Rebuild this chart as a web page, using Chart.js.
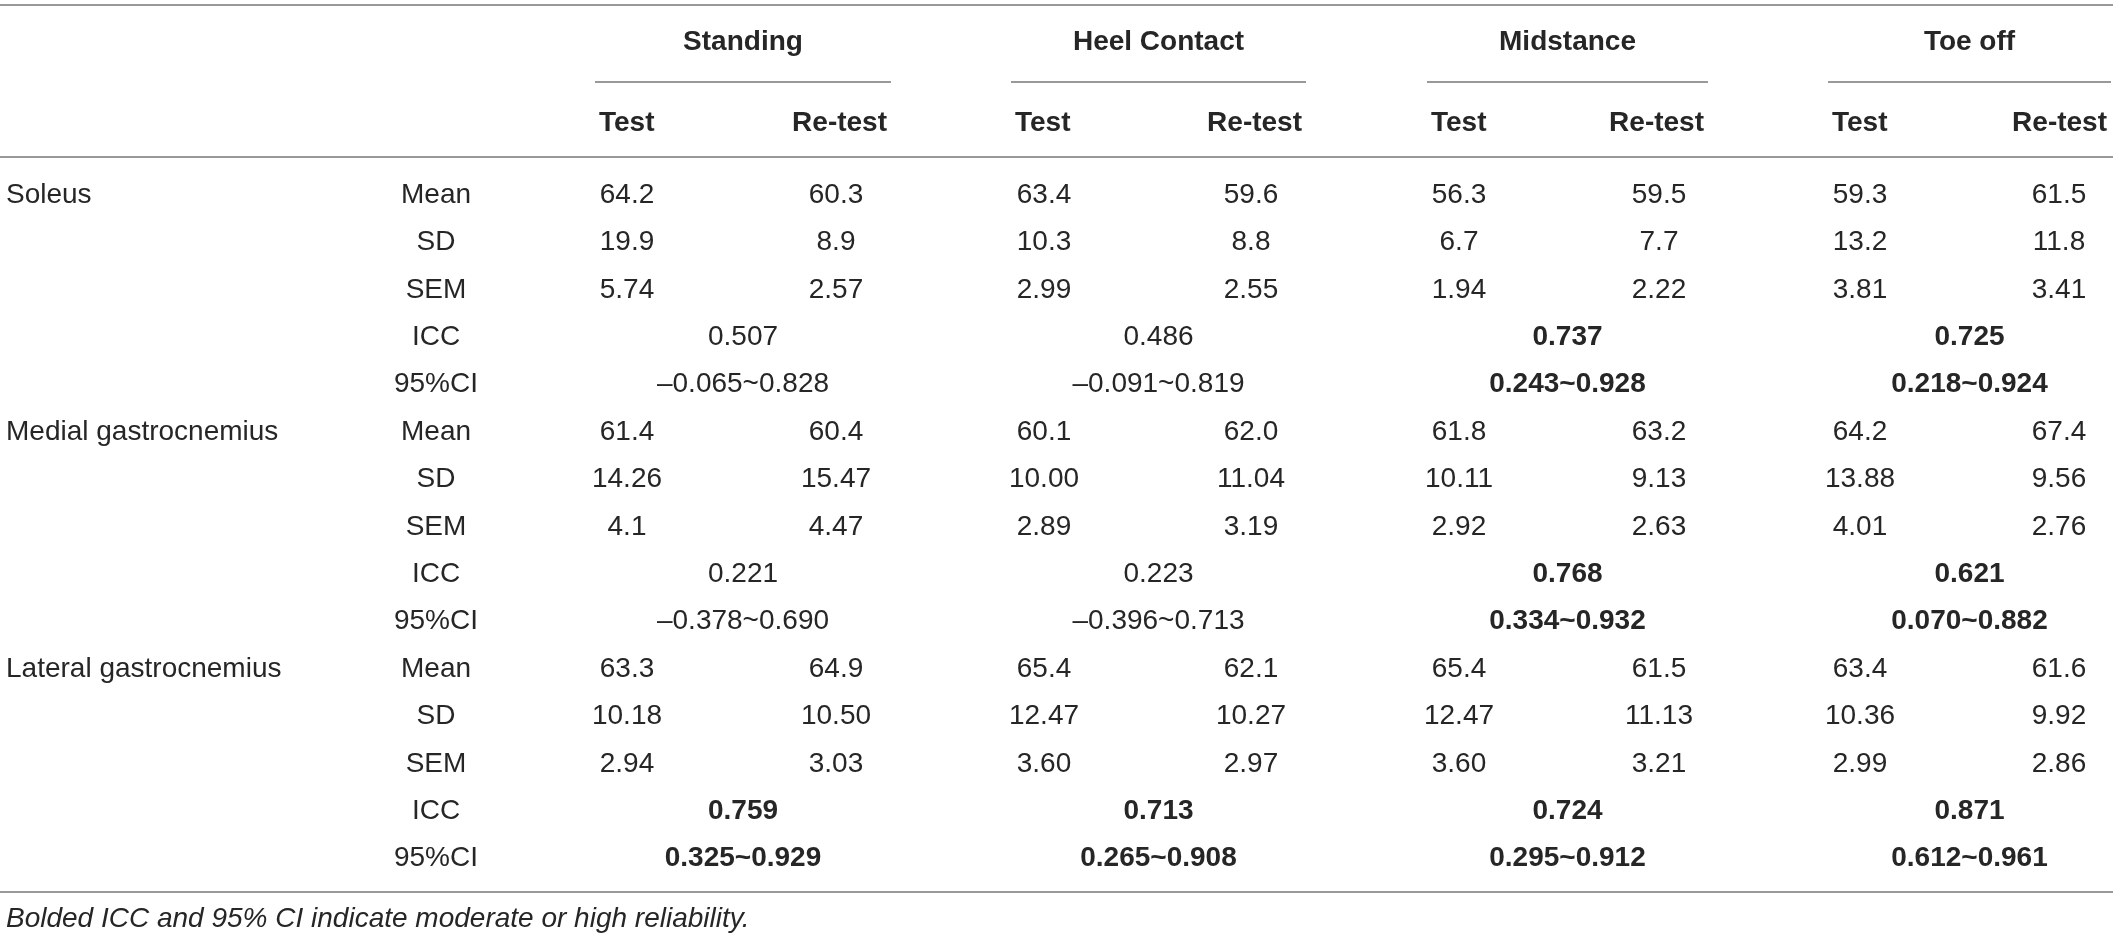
<!DOCTYPE html>
<html>
<head>
<meta charset="utf-8">
<script src="https://cdn.jsdelivr.net/npm/chart.js@4.4.1/dist/chart.umd.min.js"></script>
<style>
  html, body { margin: 0; padding: 0; background: #ffffff; }
  #wrap { width: 2117px; height: 941px; }
</style>
</head>
<body>
<div id="wrap"><canvas id="tbl" width="2117" height="941"></canvas></div>
<script>
// ---------- DATA ----------
const MUSCLES = ['Soleus', 'Medial gastrocnemius', 'Lateral gastrocnemius'];
const STATS = ['Mean', 'SD', 'SEM', 'ICC', '95%CI'];
const PHASES = ['Standing', 'Heel Contact', 'Midstance', 'Toe off'];
const SESSIONS = ['Test', 'Re-test'];

// [muscle][phase]
const MEAN_TEST   = [['64.2', '63.4', '56.3', '59.3'], ['61.4', '60.1', '61.8', '64.2'], ['63.3', '65.4', '65.4', '63.4']];
const MEAN_RETEST = [['60.3', '59.6', '59.5', '61.5'], ['60.4', '62.0', '63.2', '67.4'], ['64.9', '62.1', '61.5', '61.6']];
const SD_TEST     = [['19.9', '10.3', '6.7', '13.2'], ['14.26', '10.00', '10.11', '13.88'], ['10.18', '12.47', '12.47', '10.36']];
const SD_RETEST   = [['8.9', '8.8', '7.7', '11.8'], ['15.47', '11.04', '9.13', '9.56'], ['10.50', '10.27', '11.13', '9.92']];
const SEM_TEST    = [['5.74', '2.99', '1.94', '3.81'], ['4.1', '2.89', '2.92', '4.01'], ['2.94', '3.60', '3.60', '2.99']];
const SEM_RETEST  = [['2.57', '2.55', '2.22', '3.41'], ['4.47', '3.19', '2.63', '2.76'], ['3.03', '2.97', '3.21', '2.86']];
const ICC_VALUES  = [['0.507', '0.486', '0.737', '0.725'], ['0.221', '0.223', '0.768', '0.621'], ['0.759', '0.713', '0.724', '0.871']];
const CI_VALUES   = [['–0.065~0.828', '–0.091~0.819', '0.243~0.928', '0.218~0.924'],
                     ['–0.378~0.690', '–0.396~0.713', '0.334~0.932', '0.070~0.882'],
                     ['0.325~0.929', '0.265~0.908', '0.295~0.912', '0.612~0.961']];
const BOLD_RELIABLE = [[false, false, true, true], [false, false, true, true], [true, true, true, true]];
const FOOTNOTE = 'Bolded ICC and 95% CI indicate moderate or high reliability.';

// ---------- LAYOUT / STYLE ----------
const W = 2117, H = 941;
const LAYOUT = {
  muscleX: 6, statX: 436,
  groupLeft:  [595, 1011, 1427, 1828],
  groupRight: [891, 1306, 1708, 2111],
  testX:   [627, 1044, 1459, 1860],
  retestX: [836, 1251, 1659, 2059],
  firstRowY: 195, lastRowY: 858.6,
  topRuleY: 5, phaseY: 42, underlineY: 82, sessionY: 123, headRuleY: 157,
  bottomRuleY: 892, footY: 919,
  ruleLeft: 0, ruleRight: 2113
};
const STYLE = {
  font: '"Liberation Sans", Arial, Helvetica, sans-serif',
  size: 28,
  text: '#262626',
  rule: '#999999',
  ruleWidth: 2
};

// ---------- BUILD DATASETS ----------
const ROW_KEYS = [];
MUSCLES.forEach(m => STATS.forEach(s => ROW_KEYS.push(m + '|' + s)));
const rowKey = (mi, si) => MUSCLES[mi] + '|' + STATS[si];

const datasets = [];
function addColumn(points, texts, align, bold) {
  datasets.push({ data: points, texts, align, bold: bold || texts.map(() => false),
                  pointRadius: 0, pointHoverRadius: 0, showLine: false });
}
// muscle names
addColumn(MUSCLES.map((m, mi) => ({ x: LAYOUT.muscleX, y: rowKey(mi, 0) })), MUSCLES.slice(), 'left');
// statistic labels
{
  const pts = [], txt = [];
  MUSCLES.forEach((m, mi) => STATS.forEach((s, si) => { pts.push({ x: LAYOUT.statX, y: rowKey(mi, si) }); txt.push(s); }));
  addColumn(pts, txt, 'center');
}
// values per phase
PHASES.forEach((ph, pi) => {
  const tp = [], tt = [], rp = [], rt = [], cp = [], ct = [], cb = [];
  const cx = (LAYOUT.groupLeft[pi] + LAYOUT.groupRight[pi]) / 2;
  MUSCLES.forEach((m, mi) => {
    [MEAN_TEST, SD_TEST, SEM_TEST].forEach((arr, si) => { tp.push({ x: LAYOUT.testX[pi], y: rowKey(mi, si) }); tt.push(arr[mi][pi]); });
    [MEAN_RETEST, SD_RETEST, SEM_RETEST].forEach((arr, si) => { rp.push({ x: LAYOUT.retestX[pi], y: rowKey(mi, si) }); rt.push(arr[mi][pi]); });
    cp.push({ x: cx, y: rowKey(mi, 3) }); ct.push(ICC_VALUES[mi][pi]); cb.push(BOLD_RELIABLE[mi][pi]);
    cp.push({ x: cx, y: rowKey(mi, 4) }); ct.push(CI_VALUES[mi][pi]); cb.push(BOLD_RELIABLE[mi][pi]);
  });
  addColumn(tp, tt, 'center');
  addColumn(rp, rt, 'center');
  addColumn(cp, ct, 'center', cb);
});

// ---------- PLUGIN: draw table text & rules ----------
const tablePlugin = {
  id: 'tableText',
  afterDatasetsDraw(chart) {
    const ctx = chart.ctx;
    ctx.save();
    ctx.fillStyle = STYLE.text;
    ctx.textBaseline = 'middle';
    chart.data.datasets.forEach((ds, di) => {
      const meta = chart.getDatasetMeta(di);
      meta.data.forEach((el, j) => {
        ctx.font = (ds.bold[j] ? 'bold ' : '') + STYLE.size + 'px ' + STYLE.font;
        ctx.textAlign = ds.align;
        ctx.fillText(ds.texts[j], el.x, el.y);
      });
    });
    // headers
    ctx.font = 'bold ' + STYLE.size + 'px ' + STYLE.font;
    PHASES.forEach((ph, pi) => {
      const l = LAYOUT.groupLeft[pi], r = LAYOUT.groupRight[pi];
      ctx.textAlign = 'center';
      ctx.fillText(ph, (l + r) / 2, LAYOUT.phaseY);
      ctx.textAlign = 'left';
      ctx.fillText(SESSIONS[0], l + 4, LAYOUT.sessionY);
      ctx.textAlign = 'right';
      ctx.fillText(SESSIONS[1], r - 4, LAYOUT.sessionY);
    });
    // footnote
    ctx.font = 'italic ' + STYLE.size + 'px ' + STYLE.font;
    ctx.textAlign = 'left';
    ctx.fillText(FOOTNOTE, 6, LAYOUT.footY);
    // rules
    ctx.strokeStyle = STYLE.rule;
    ctx.lineWidth = STYLE.ruleWidth;
    const hline = (x1, x2, y) => { ctx.beginPath(); ctx.moveTo(x1, y); ctx.lineTo(x2, y); ctx.stroke(); };
    hline(LAYOUT.ruleLeft, LAYOUT.ruleRight, LAYOUT.topRuleY);
    hline(LAYOUT.ruleLeft, LAYOUT.ruleRight, LAYOUT.headRuleY);
    hline(LAYOUT.ruleLeft, LAYOUT.ruleRight, LAYOUT.bottomRuleY);
    PHASES.forEach((ph, pi) => hline(LAYOUT.groupLeft[pi], LAYOUT.groupRight[pi], LAYOUT.underlineY));
    ctx.restore();
  }
};

new Chart(document.getElementById('tbl'), {
  type: 'scatter',
  data: { datasets },
  options: {
    responsive: false,
    maintainAspectRatio: false,
    devicePixelRatio: 1,
    animation: false,
    events: [],
    layout: { padding: { left: 0, right: 0, top: LAYOUT.firstRowY, bottom: H - LAYOUT.lastRowY } },
    plugins: { legend: { display: false }, tooltip: { enabled: false } },
    scales: {
      x: { type: 'linear', min: 0, max: W, display: false },
      y: { type: 'category', labels: ROW_KEYS, offset: false, display: false }
    }
  },
  plugins: [tablePlugin]
});
</script>
</body>
</html>
